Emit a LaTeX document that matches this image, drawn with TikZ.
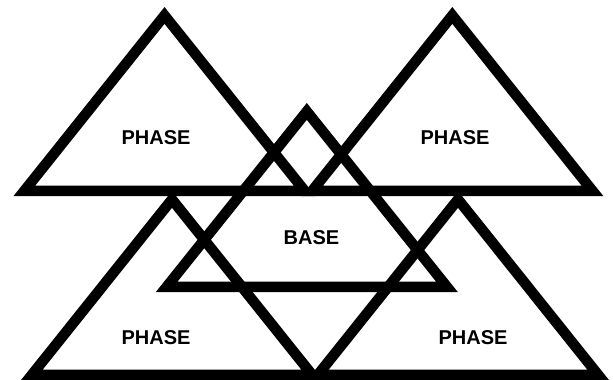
\documentclass[tikz,border=0pt]{standalone}
\usepackage{fontspec}
\setmainfont{Liberation Sans}
\begin{document}
\begin{tikzpicture}[x=1pt,y=-1pt,
  tri/.style={draw=black, line width=10.5pt, line join=miter, miter limit=10},
  lbl/.style={font=\fontsize{20}{24}\selectfont\bfseries, inner sep=0pt}]
\useasboundingbox (0,0) rectangle (613,380);
% top-left triangle
\coordinate (tlA) at (164.5,15.41);
\coordinate (tlB) at (24.42,190.75);
\coordinate (tlC) at (304.58,190.75);
% top-right triangle
\coordinate (trA) at (452.3,15.41);
\coordinate (trB) at (312.22,190.75);
\coordinate (trC) at (592.38,190.75);
% base triangle
\coordinate (bsA) at (306.8,111.41);
\coordinate (bsB) at (166.72,286.75);
\coordinate (bsC) at (446.88,286.75);
% bottom-left triangle
\coordinate (blA) at (172,199.41);
\coordinate (blB) at (31.92,374.75);
\coordinate (blC) at (312.08,374.75);
% bottom-right triangle
\coordinate (brA) at (458,199.41);
\coordinate (brB) at (317.92,374.75);
\coordinate (brC) at (598.08,374.75);
\draw[tri] (tlA) -- (tlB) -- (tlC) -- cycle;
\draw[tri] (trA) -- (trB) -- (trC) -- cycle;
\draw[tri] (bsA) -- (bsB) -- (bsC) -- cycle;
\draw[tri] (blA) -- (blB) -- (blC) -- cycle;
\draw[tri] (brA) -- (brB) -- (brC) -- cycle;
\node[lbl] (p1) at (156,137.5) {PHASE};
\node[lbl] (p2) at (455,137.5) {PHASE};
\node[lbl] (b0) at (311.5,237.5) {BASE};
\node[lbl] (p3) at (156,338) {PHASE};
\node[lbl] (p4) at (473,338) {PHASE};
\end{tikzpicture}
\end{document}
